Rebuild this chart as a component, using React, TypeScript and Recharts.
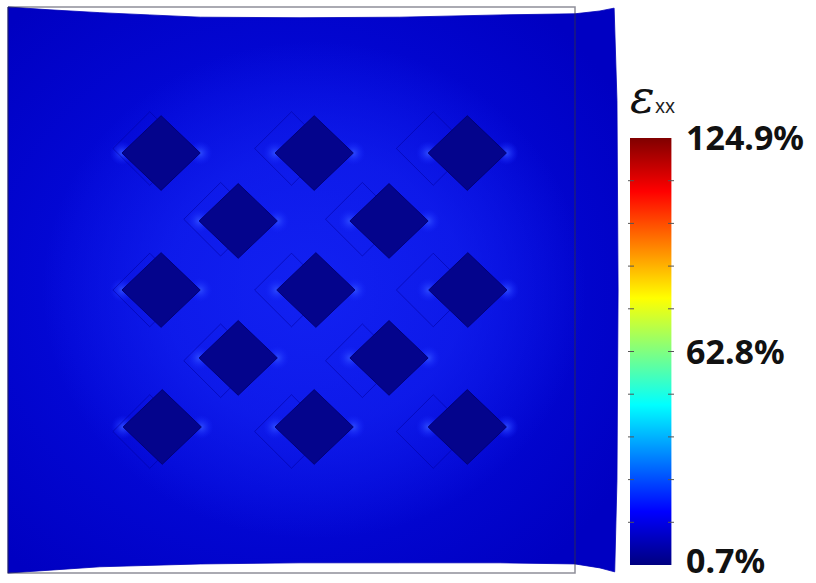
import React from "react";
import { ComposedChart, Scatter, XAxis, YAxis, Bar, ReferenceLine } from "recharts";

// model units: undeformed plate spans 0..100 in both directions
const outlineX = [0, 100, 100, 0, 0];
const outlineY = [0, 0, 100, 100, 0];

// deformed plate boundary, clockwise from the clamped top-left corner
const plateX = [0, 7.4, 16.2, 25, 33.9, 51.5, 69.1, 86.8, 100, 104.4, 106.9, 107.4, 107.6, 107.4, 107.0, 104.4, 100, 86.8, 69.1, 51.5, 33.9, 16.2, 7.4, 0];
const plateY = [0, 0.5, 1.0, 1.4, 1.8, 1.9, 1.8, 1.4, 1.2, 0.7, 0.2, 16.5, 50, 83.6, 99.8, 99.1, 98.4, 98.2, 98.2, 98.2, 98.4, 98.9, 99.5, 100];

// hole centres before loading
const holeX0 = [25, 50, 75, 37.5, 62.5, 25, 50, 75, 37.5, 62.5, 25, 50, 75];
const holeY0 = [25, 25, 25, 37.5, 37.5, 50, 50, 50, 62.5, 62.5, 75, 75, 75];
const holeHalf0 = 6.5;

// hole centres after loading
const holeX = [27.0, 54.0, 81.0, 40.6, 67.2, 27.0, 54.3, 81.1, 40.6, 67.2, 27.2, 54.0, 81.0];
const holeY = [25.8, 25.8, 25.8, 37.8, 37.8, 50.0, 50.0, 50.0, 62.0, 62.0, 74.2, 74.2, 74.2];
const holeHalfX = 6.9;
const holeHalfY = 6.6;

// region of the lattice where strain is a little higher
const latticeX = [6, 102, 102, 6];
const latticeY = [6, 6, 94, 94];

// colour bar
const strainRange = [0.7, 124.9];
const strainTicks = [0.7, 62.8, 124.9];
const strainDivisions = [13.12, 25.54, 37.96, 50.38, 62.8, 75.22, 87.64, 100.06, 112.48];

const toPoints = (xs: number[], ys: number[]) => xs.map((x, i) => ({ x, y: ys[i] }));

const diamondCorners = (xs: number[], ys: number[], ax: number, ay: number) =>
  xs.flatMap((cx, i) => [
    { x: cx - ax, y: ys[i] },
    { x: cx, y: ys[i] - ay },
    { x: cx + ax, y: ys[i] },
    { x: cx, y: ys[i] + ay },
  ]);

const sideCorners = (xs: number[], ys: number[], ax: number) =>
  xs.flatMap((cx, i) => [
    { x: cx - ax, y: ys[i] },
    { x: cx + ax, y: ys[i] },
  ]);

const platePts = toPoints(plateX, plateY);
const outlinePts = toPoints(outlineX, outlineY);
const latticePts = toPoints(latticeX, latticeY);
const holePts = diamondCorners(holeX, holeY, holeHalfX, holeHalfY);
const holePts0 = diamondCorners(holeX0, holeY0, holeHalf0, holeHalf0);
const spotPts = sideCorners(holeX, holeY, holeHalfX);
const colorbarData = [{ name: "exx", range: strainRange }];

function polygons(size: number, style: React.SVGProps<SVGPolygonElement>, closed = true) {
  return (props: any) => {
    const pts: { x: number; y: number }[] = props.points || [];
    const groups: { x: number; y: number }[][] = [];
    for (let i = 0; i < pts.length; i += size) groups.push(pts.slice(i, i + size));
    return (
      <g>
        {groups.map((g, k) => {
          const s = g.map((p) => `${p.x},${p.y}`).join(" ");
          return closed ? (
            <polygon key={k} points={s} {...style} />
          ) : (
            <polyline key={k} points={s} {...(style as any)} />
          );
        })}
      </g>
    );
  };
}

const noDot = () => <g />;

const spotShape = (props: any) => <circle cx={props.cx} cy={props.cy} r={12} fill="url(#spot)" />;

// bottom label sits right at the page edge, nudge it up a little
const StrainTick = (props: any) => {
  const v = props.payload?.value;
  const lift = v === strainRange[0] ? -4 : 0;
  return (
    <text
      x={props.x}
      y={props.y + lift}
      dy="0.36em"
      textAnchor="start"
      fontSize={34}
      fontWeight={700}
      fill="#111"
      fontFamily="'Noto Sans', 'DejaVu Sans', sans-serif"
    >
      {`${v}%`}
    </text>
  );
};

export default function App() {
  return (
    <div style={{ position: "absolute", left: 0, top: 0, width: 816, height: 583, background: "#fff", overflow: "hidden" }}>
      <div style={{ position: "absolute", left: 0, top: 0 }}>
        <ComposedChart width={640} height={583} margin={{ top: 7, right: 8.3, bottom: 10, left: 8 }}>
          <defs>
            <radialGradient id="plateFill" cx="0.45" cy="0.5" r="0.65">
              <stop offset="0" stopColor="#0610e2" />
              <stop offset="0.55" stopColor="#0308d6" />
              <stop offset="1" stopColor="#0000c2" />
            </radialGradient>
            <radialGradient id="glow" cx="0.5" cy="0.5" r="0.5">
              <stop offset="0" stopColor="#1424f4" stopOpacity={0.85} />
              <stop offset="0.55" stopColor="#1424f4" stopOpacity={0.6} />
              <stop offset="1" stopColor="#1424f4" stopOpacity={0} />
            </radialGradient>
            <radialGradient id="spot" cx="0.5" cy="0.5" r="0.5">
              <stop offset="0" stopColor="#3050ff" stopOpacity={0.9} />
              <stop offset="1" stopColor="#1424ff" stopOpacity={0} />
            </radialGradient>
          </defs>
          <XAxis type="number" dataKey="x" domain={[0, 110]} hide />
          <YAxis type="number" dataKey="y" domain={[0, 100]} reversed hide />
          <Scatter
            data={platePts}
            isAnimationActive={false}
            shape={noDot}
            line={polygons(platePts.length, { fill: "url(#plateFill)", stroke: "#0000b8", strokeWidth: 0.8 })}
          />
          <Scatter
            data={latticePts}
            isAnimationActive={false}
            shape={noDot}
            line={polygons(4, { fill: "url(#glow)" })}
          />
          <Scatter data={spotPts} isAnimationActive={false} shape={spotShape} />
          <Scatter
            data={holePts0}
            isAnimationActive={false}
            shape={noDot}
            line={polygons(4, { fill: "none", stroke: "#0000a0", strokeWidth: 1, strokeOpacity: 0.55 })}
          />
          <Scatter
            data={holePts}
            isAnimationActive={false}
            shape={noDot}
            line={polygons(4, { fill: "#04048c", stroke: "#000078", strokeWidth: 1 })}
          />
          <Scatter
            data={outlinePts}
            isAnimationActive={false}
            shape={noDot}
            line={polygons(outlinePts.length, { fill: "none", stroke: "rgba(50,50,70,0.55)", strokeWidth: 1.5 }, false)}
          />
        </ComposedChart>
      </div>

      <div style={{ position: "absolute", left: 600, top: 0 }}>
        <ComposedChart
          width={216}
          height={583}
          data={colorbarData}
          margin={{ top: 138, right: 12, bottom: 18, left: 28 }}
          barCategoryGap={0}
        >
          <defs>
            <linearGradient id="jet" x1="0" y1="0" x2="0" y2="1">
              <stop offset="0" stopColor="#800000" />
              <stop offset="0.125" stopColor="#ff0000" />
              <stop offset="0.375" stopColor="#ffff00" />
              <stop offset="0.5" stopColor="#80ff80" />
              <stop offset="0.625" stopColor="#00ffff" />
              <stop offset="0.875" stopColor="#0000ff" />
              <stop offset="1" stopColor="#000080" />
            </linearGradient>
          </defs>
          <XAxis dataKey="name" type="category" hide />
          <YAxis
            orientation="right"
            type="number"
            domain={strainRange}
            ticks={strainTicks}
            interval={0}
            width={130}
            axisLine={false}
            tickLine={false}
            tickMargin={6}
            tick={StrainTick}
          />
          <Bar dataKey="range" fill="url(#jet)" barSize={46} isAnimationActive={false} />
          {strainDivisions.map((v) => (
            <ReferenceLine key={v} y={v} stroke="#555" strokeWidth={1} strokeDasharray="6 34" />
          ))}
        </ComposedChart>
      </div>

      <svg width={816} height={583} style={{ position: "absolute", left: 0, top: 0, pointerEvents: "none" }}>
        <text x={630} y={113} fontSize={46} fontStyle="italic" fontFamily="'DejaVu Serif', serif" fill="#111">
          ε
        </text>
        <text x={655} y={113} fontSize={19} fontFamily="'Noto Sans', sans-serif" fill="#222">
          xx
        </text>
      </svg>
    </div>
  );
}
